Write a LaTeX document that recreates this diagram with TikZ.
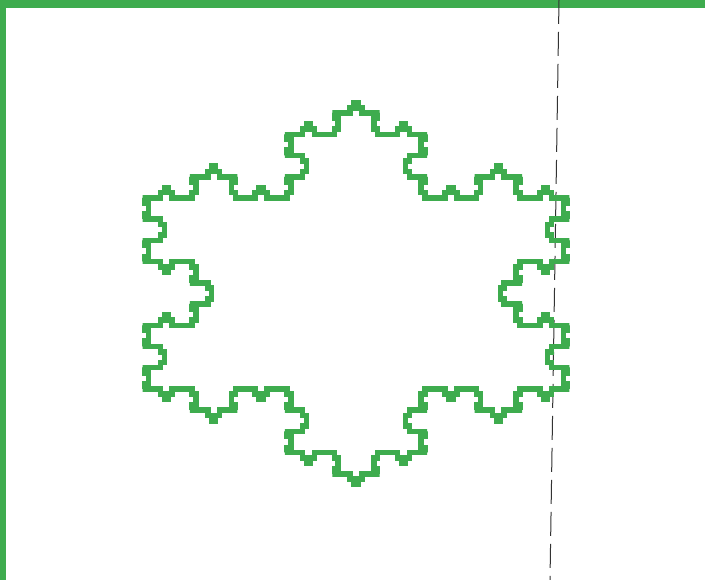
\documentclass[tikz,border=0pt]{standalone}
\definecolor{kochgreen}{RGB}{62,172,78}
\newcommand{\kx}{15.81}
\newcommand{\ky}{12.25}
\begin{document}
\begin{tikzpicture}[x=1pt,y=1pt]
  \useasboundingbox (0,0) rectangle (705,580);
  % frame, top and left
  \fill[kochgreen] (0,572) rectangle (705,580);
  \fill[kochgreen] (0,0) rectangle (6,580);
  % fold line
  \draw[black!80,line width=1pt,dash pattern=on 24pt off 8pt] (559,580) -- (550,0);
  % snowflake, third step, drawn as pixel stairs
  \draw[kochgreen,line width=5.5pt,line join=miter]
    (356,477.5) \foreach \k [evaluate=\k as \dir using
      {240+120*int(\k/64)
       +60*((mod(\k,4)==2)-(mod(\k,4)==1))
       +60*((mod(int(\k/4),4)==2)-(mod(int(\k/4),4)==1))
       +60*((mod(int(\k/16),4)==2)-(mod(int(\k/16),4)==1))}] in {0,...,191} {
      -- ++({\kx*cos(\dir)/4},0) -- ++(0,{\ky*sin(\dir)/2})
      -- ++({\kx*cos(\dir)/2},0) -- ++(0,{\ky*sin(\dir)/2})
      -- ++({\kx*cos(\dir)/4},0)
    } -- cycle;
\end{tikzpicture}
\end{document}
